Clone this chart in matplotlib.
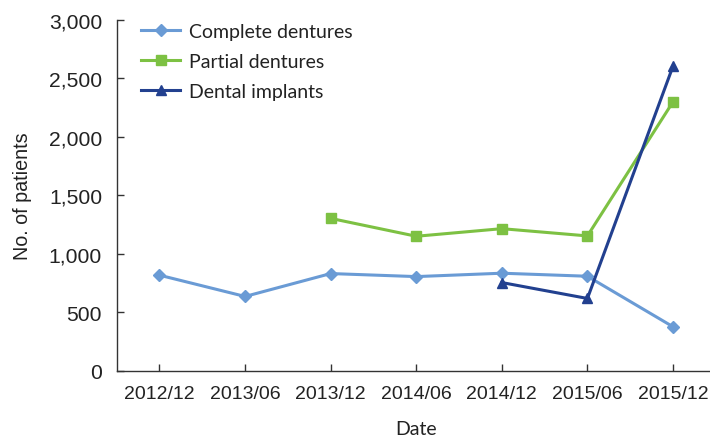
import numpy as np
import matplotlib
matplotlib.use('Agg')
import matplotlib.pyplot as plt

# data
dates = ['2012/12', '2013/06', '2013/12', '2014/06', '2014/12', '2015/06', '2015/12']
complete = [817, 635, 831, 805, 834, 808, 376]
partial = [np.nan, np.nan, 1303, 1150, 1215, 1153, 2300]
implants = [np.nan, np.nan, np.nan, np.nan, 754, 618, 2605]

c_complete = '#6a9bd5'
c_partial = '#7dc143'
c_implant = '#22408f'
axis_col = '#333333'

plt.rcParams['font.family'] = ['Liberation Sans', 'DejaVu Sans']

fig = plt.figure(figsize=(7.1, 4.39), dpi=100)
ax = fig.add_axes([116.7 / 710, (439 - 371.7) / 439, (715.8 - 116.7) / 710, (371.7 - 21) / 439])

x = np.arange(len(dates))
ax.plot(x, complete, color=c_complete, lw=2.2, marker='D', ms=6.3, label='Complete dentures')
ax.plot(x, partial, color=c_partial, lw=2.2, marker='s', ms=7.3, label='Partial dentures')
ax.plot(x, implants, color=c_implant, lw=2.2, marker='^', ms=7.8, label='Dental implants')

ax.set_xlim(-0.5, 6.5)
ax.set_ylim(0, 3000)
ax.set_xticks(x)
ax.set_xticklabels(dates)
ax.set_yticks(np.arange(0, 3001, 500))
ax.set_yticklabels([f'{v:,}' for v in range(0, 3001, 500)])

for s in ['top', 'right']:
    ax.spines[s].set_visible(False)
for s in ['left', 'bottom']:
    ax.spines[s].set_color(axis_col)
    ax.spines[s].set_linewidth(1.0)
ax.tick_params(axis='both', direction='in', length=5, width=1.0, color=axis_col, labelcolor='#222222')
ax.tick_params(axis='y', labelsize=15.2, pad=10.5)
ax.tick_params(axis='x', labelsize=14, pad=10)

ax.set_ylabel('No. of patients', fontsize=14.2, color='#222222', labelpad=12)
ax.set_xlabel('Date', fontsize=14, color='#222222', labelpad=13, family=['Lato', 'DejaVu Sans'])

leg = ax.legend(loc='upper left', bbox_to_anchor=(124 / 710, 1 - 6 / 439), bbox_transform=fig.transFigure,
                frameon=False, handlelength=2.0, handletextpad=0.42, labelspacing=0.68,
                prop={'family': ['Lato', 'DejaVu Sans'], 'size': 14})
for t in leg.get_texts():
    t.set_color('#222222')

fig.savefig('out.png', dpi=100)
